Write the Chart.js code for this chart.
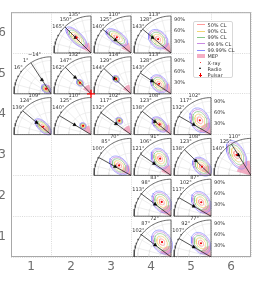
<!DOCTYPE html>
<html><head><meta charset="utf-8">
<script src="https://cdn.jsdelivr.net/npm/chart.js@4.4.1/dist/chart.umd.min.js"></script>
<style>
html,body{margin:0;padding:0;background:#fff;overflow:hidden;width:266px;height:285px;position:relative}
#c{position:absolute;left:-20px;top:0;width:286px;height:285px}
#legend{position:absolute;left:193px;top:20.5px;width:40px;height:57px;box-sizing:border-box;border:0.8px solid #d8d8d8;border-radius:2px;background:rgba(255,255,255,0.92);font-family:'DejaVu Sans',sans-serif;font-size:5px;color:#333}
.it{position:absolute;left:0;width:38px;height:6px}
.h{position:absolute;left:2.5px;width:8px}
.t{position:absolute;left:13.5px;top:0;line-height:6px;white-space:nowrap}
</style></head><body>
<canvas id="c" width="286" height="285"></canvas>
<div id="legend"></div>
<script>
// ---------- data ----------
const xTicks = [1, 2, 3, 4, 5, 6];
const yTicks = [1, 2, 3, 4, 5, 6];
// inset cells
const insetCol = [2, 3, 4,  1, 2, 3, 4,  1, 2, 3, 4, 5,  3, 4, 5, 6,  4, 5,  4, 5];
const insetRow = [6, 6, 6,  5, 5, 5, 5,  4, 4, 4, 4, 4,  3, 3, 3, 3,  2, 2,  1, 1];
// first angular tick label of each inset (degrees); the next two are +15, +30
const angleLabel0 = [135, 110, 113,  -14, 132, 114, 113,  109, 110, 102, 108, 102,  70, 91, 108, 110,  83, 87,  72, 77];
// direction of the black line (deg, 90 = up, 180 = left)
const lineAngle   = [135, 140, 140,  123, 134, 137, 146,  140, 149, 144, 141, 150,  151, 145, 136, 122,  143, 150,  143, 150];
// radio position along the line (fraction of inset radius)
const radioR      = [0.59, 0.55, 0.65,  0.45, 0.62, 0.60, 0.62,  0.51, 0.52, 0.50, 0.56, 0.54,  0.49, 0.56, 0.57, 0.65,  0.54, 0.54,  0.54, 0.54];
// X-ray best position (angle deg, radius fraction)
const xrayAngle   = [133, 132, 133,  135, 135, 135, 140,  135, 132, 130, 138, 128,  140, 123, 136, 125,  123, 125,  121, 126];
const xrayR       = [0.57, 0.57, 0.51,  0.19, 0.42, 0.57, 0.42,  0.30, 0.32, 0.49, 0.41, 0.49,  0.42, 0.54, 0.34, 0.68,  0.46, 0.46,  0.47, 0.46];
// outermost (99.99% CL) contour: semi-axes (fraction of radius) and tilt (deg)
const contourA    = [0.38, 0.34, 0.30,  0.14, 0.10, 0.10, 0.27,  0.28, 0.09, 0.10, 0.25, 0.35,  0.30, 0.30, 0.30, 0.42,  0.32, 0.32,  0.35, 0.32];
const contourB    = [0.15, 0.16, 0.22,  0.10, 0.08, 0.08, 0.20,  0.13, 0.08, 0.08, 0.15, 0.25,  0.20, 0.22, 0.20, 0.22,  0.23, 0.23,  0.25, 0.23];
const contourTilt = [135, 145, 135,  135, 135, 135, 130,  135, 135, 135, 135, 115,  135, 120, 135, 118,  125, 125,  122, 125];
// MEP region (radius fraction, angular range)
const mepR        = [0.28, 0.28, 0.28,  0.25, 0.25, 0.25, 0.28,  0.25, 0.25, 0.25, 0.28, 0.33,  0.28, 0.28, 0.28, 0.40,  0.30, 0.30,  0.30, 0.30];
const mepA0       = [100, 100, 100,  100, 100, 100, 100,  100, 100, 100, 100, 95,  100, 95, 100, 95,  95, 95,  92, 95];
const mepA1       = [155, 155, 155,  150, 150, 150, 155,  150, 150, 150, 155, 165,  160, 160, 155, 165,  160, 160,  160, 160];
// pulsar marker (inset index, radius fraction)
const pulsarInset = [4];
const pulsarR     = [0];
// confidence levels
const clLabels = ['50% CL', '90% CL', '99% CL', '99.9% CL', '99.99% CL'];
const clScale  = [0.27, 0.50, 0.71, 0.87, 1.00];
const radialTicks = [90, 60, 30];
const legendLabels = ['50% CL', '90% CL', '99% CL', '99.9% CL', '99.99% CL', 'MEP', 'X-ray', 'Radio', 'Pulsar'];

// ---------- styles ----------
const R_PX = 37;                 // inset radius in pixels
const LABEL_POS = [113, 127, 141]; // where the angle labels sit on the arc
const clColors = ['#ff9a9a', '#f2d675', '#86c886', '#c98be3', '#8a8aff'];
const mepColor = 'rgba(238,125,160,0.62)';
const FONT = '"DejaVu Sans", sans-serif';

// legend (HTML overlay)
(function(){
  const lg = document.getElementById('legend');
  legendLabels.forEach((lab, i) => {
    const it = document.createElement('div');
    it.className = 'it'; it.style.top = (0.3 + i * 6.3) + 'px';
    let h = '';
    if (i < 5) h = `<div class="h" style="top:2.6px;height:0.9px;background:${clColors[i]}"></div>`;
    else if (i === 5) h = `<div class="h" style="top:1.2px;height:3.6px;background:${mepColor}"></div>`;
    else if (i === 6) h = `<div class="h" style="left:5.6px;top:2.2px;width:1.6px;height:1.6px;border-radius:1px;background:#e00"></div>`;
    else if (i === 7) h = `<div style="position:absolute;left:5px;top:1.4px;width:0;height:0;border-left:1.6px solid transparent;border-right:1.6px solid transparent;border-bottom:2.8px solid #000"></div>`;
    else h = `<div style="position:absolute;left:4.7px;top:3px;width:3.6px;height:0.8px;background:#e00"></div><div style="position:absolute;left:6.1px;top:1.2px;width:0.8px;height:3.6px;background:#e00"></div>`;
    it.innerHTML = h + `<div class="t">${lab}</div>`;
    lg.appendChild(it);
  });
})();

const fmtDeg = v => (v < 0 ? '\u2212' + (-v) : '' + v) + '\u00b0';
const hasRightNeighbour = i => insetCol.some((c, j) => c === insetCol[i] + 1 && insetRow[j] === insetRow[i]);

const decor = {
  id: 'decor',
  beforeDatasetsDraw(chart) {
    const {ctx, chartArea: a} = chart;
    ctx.save();
    ctx.strokeStyle = '#a8a8a8'; ctx.lineWidth = 1;
    ctx.strokeRect(a.left + 0.5, a.top + 0.5, a.right - a.left - 1, a.bottom - a.top - 1);
    ctx.restore();
  },
  afterDatasetsDraw(chart) {
    const ctx = chart.ctx, xs = chart.scales.x, ys = chart.scales.y;
    ctx.save();
    ctx.font = '5px ' + FONT;
    ctx.fillStyle = '#333';
    ctx.textBaseline = 'middle';
    insetCol.forEach((c, i) => {
      const ox = xs.getPixelForValue(c + 0.5), oy = ys.getPixelForValue(insetRow[i] - 0.5);
      ctx.textAlign = 'center';
      LABEL_POS.forEach((p, k) => {
        const t = p * Math.PI / 180, r = R_PX + 5;
        ctx.fillText(fmtDeg(angleLabel0[i] + 15 * k), ox + r * Math.cos(t), oy - r * Math.sin(t));
      });
      if (!hasRightNeighbour(i) && c < 6) {
        ctx.textAlign = 'left';
        radialTicks.forEach(v => ctx.fillText(v + '%', ox + 3, oy - v / 100 * R_PX));
      }
    });
    ctx.restore();
  }
};

const chart = new Chart(document.getElementById('c'), {
  type: 'scatter',
  data: {datasets: []},
  options: {
    responsive: false, animation: false, devicePixelRatio: 1,
    layout: {padding: {top: 7, right: 15, left: 0, bottom: 0}},
    plugins: {legend: {display: false}, tooltip: {enabled: false}},
    scales: {
      x: {
        type: 'linear', min: 0.5, max: 6.5,
        afterBuildTicks: s => { s.ticks = xTicks.map(v => ({value: v})); },
        afterFit: s => { s.height = 28; },
        ticks: {color: '#6e6e6e', font: {family: FONT, size: 12}, padding: 3},
        grid: {offset: true, color: '#d0d0d0', lineWidth: 0.8, drawTicks: false},
        border: {display: false, dash: [1, 1.2]}
      },
      y: {
        type: 'linear', min: 0.5, max: 6.5,
        afterBuildTicks: s => { s.ticks = yTicks.map(v => ({value: v})); },
        afterFit: s => { s.width = 31; },
        ticks: {color: '#6e6e6e', font: {family: FONT, size: 12}, padding: 5},
        grid: {offset: true, color: '#d0d0d0', lineWidth: 0.8, drawTicks: false},
        border: {display: false, dash: [1, 1.2]}
      }
    }
  },
  plugins: [decor]
});

// pixel size of one data unit, taken from the chart's own scales
const xs = chart.scales.x, ys = chart.scales.y;
const pxX = xs.getPixelForValue(1) - xs.getPixelForValue(0);
const pxY = ys.getPixelForValue(0) - ys.getPixelForValue(1);
const GAP = {x: 0, y: null};

function pt(i, angDeg, rFrac) {
  const t = angDeg * Math.PI / 180;
  return {x: insetCol[i] + 0.5 + rFrac * R_PX * Math.cos(t) / pxX,
          y: insetRow[i] - 0.5 + rFrac * R_PX * Math.sin(t) / pxY};
}
function arc(i, r, a0, a1, n) {
  const out = [];
  for (let k = 0; k <= n; k++) out.push(pt(i, a0 + (a1 - a0) * k / n, r));
  return out;
}
function ellipse(i, s) {
  const t = xrayAngle[i] * Math.PI / 180;
  const cx = xrayR[i] * R_PX * Math.cos(t), cy = xrayR[i] * R_PX * Math.sin(t);
  const a = contourA[i] * R_PX * s, b = contourB[i] * R_PX * s, psi = contourTilt[i] * Math.PI / 180;
  const out = [];
  for (let k = 0; k <= 40; k++) {
    const u = 2 * Math.PI * k / 40;
    const px = cx + a * Math.cos(u) * Math.cos(psi) - b * Math.sin(u) * Math.sin(psi);
    const py = cy + a * Math.cos(u) * Math.sin(psi) + b * Math.sin(u) * Math.cos(psi);
    out.push({x: insetCol[i] + 0.5 + px / pxX, y: insetRow[i] - 0.5 + py / pxY});
  }
  return out;
}

const layers = []; // bottom -> top
const lineDs = (data, color, w) => ({type: 'line', data, borderColor: color, borderWidth: w, pointRadius: 0, fill: false, spanGaps: false, tension: 0});

// polar grid
let grid = [];
insetCol.forEach((c, i) => {
  [105, 120, 135, 150, 165].forEach(a => { grid.push(pt(i, a, 0), pt(i, a, 1), GAP); });
  [0.3, 0.6, 0.9].forEach(r => { grid.push(...arc(i, r, 90, 180, 24), GAP); });
});
layers.push(lineDs(grid, '#e2e2e2', 0.6));

// MEP regions
insetCol.forEach((c, i) => {
  const poly = [pt(i, 0, 0), ...arc(i, mepR[i], mepA0[i], mepA1[i], 16), pt(i, 0, 0)];
  layers.push({type: 'line', data: poly, borderWidth: 0, borderColor: 'rgba(0,0,0,0)', backgroundColor: mepColor, fill: 'shape', pointRadius: 0, tension: 0});
});

// contours, outermost first
for (let L = 4; L >= 0; L--) {
  let d = [];
  insetCol.forEach((c, i) => { d.push(...ellipse(i, clScale[L]), GAP); });
  layers.push(lineDs(d, clColors[L], 0.7));
}

// inset frames
let frame = [];
insetCol.forEach((c, i) => { frame.push(pt(i, 180, 1), pt(i, 0, 0), pt(i, 90, 1), ...arc(i, 1, 90, 180, 40), GAP); });
layers.push(lineDs(frame, '#444', 0.8));

// black lines
let lines = [];
insetCol.forEach((c, i) => { lines.push(pt(i, lineAngle[i], 0), pt(i, lineAngle[i], 1), GAP); });
layers.push(lineDs(lines, '#111', 0.7));

// markers
layers.push({type: 'scatter', data: insetCol.map((c, i) => pt(i, lineAngle[i], radioR[i])), pointStyle: 'triangle', pointRadius: 1.9, backgroundColor: '#000', borderColor: '#000', borderWidth: 0.5, showLine: false});
layers.push({type: 'scatter', data: insetCol.map((c, i) => pt(i, xrayAngle[i], xrayR[i])), pointStyle: 'circle', pointRadius: 1.1, backgroundColor: '#e00', borderWidth: 0, showLine: false});
layers.push({type: 'scatter', data: pulsarInset.map((i, k) => pt(i, 0, pulsarR[k])), pointStyle: 'cross', pointRadius: 4, borderColor: '#f00', borderWidth: 1.3, showLine: false, clip: false});

layers.forEach((d, k) => { d.order = layers.length - k; });
chart.data.datasets = layers;
chart.update();
</script></body></html>
